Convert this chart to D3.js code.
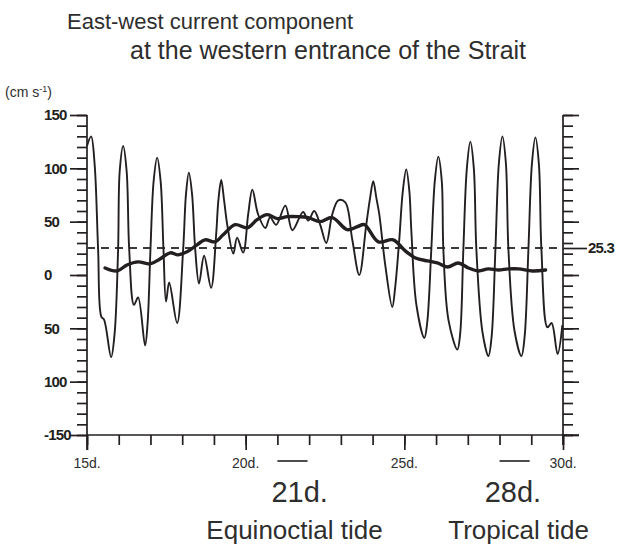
<!DOCTYPE html>
<html>
<head>
<meta charset="utf-8">
<script src="https://cdn.jsdelivr.net/npm/d3@7"></script>
<style>
  html, body { margin: 0; padding: 0; background: #fff; }
  svg { display: block; }
</style>
</head>
<body>
<div id="chart"></div>
<script>
// East-west current, western entrance of the Strait.
// Thin line = observed current (cm/s), thick line = tidally averaged current.
// Values read off the figure: extremes, shoulders and crossings of each tidal cycle.
const tideDay = [
  15.00, 15.13, 15.24, 15.35, 15.45, 15.54, 15.76, 15.87, 15.98, 16.03,
  16.14, 16.25, 16.33, 16.48, 16.61, 16.83, 16.91, 17.00, 17.10, 17.21,
  17.32, 17.41, 17.49, 17.59, 17.84, 18.03, 18.12, 18.21, 18.31, 18.41,
  18.53, 18.69, 18.91, 19.07, 19.14, 19.23, 19.32, 19.42, 19.61, 19.73,
  19.92, 20.08, 20.21, 20.39, 20.62, 20.77, 20.96, 21.25, 21.47, 21.81,
  21.97, 22.16, 22.35, 22.54, 22.73, 22.92, 23.14, 23.36, 23.58, 23.80,
  23.92, 24.02, 24.12, 24.21, 24.40, 24.62, 24.71, 24.84, 24.95, 25.06,
  25.16, 25.22, 25.38, 25.63, 25.72, 25.85, 25.96, 26.07, 26.18, 26.23,
  26.39, 26.67, 26.76, 26.86, 26.97, 27.08, 27.19, 27.27, 27.46, 27.65,
  27.75, 27.87, 27.98, 28.09, 28.20, 28.28, 28.47, 28.69, 28.79, 28.91,
  29.02, 29.13, 29.24, 29.32, 29.51, 29.64, 29.83, 29.98
];
const tideSpeed = [
  121, 130, 104, 24, -39, -42, -77, -55, 24, 97,
  121, 97, 24, -28, -21, -66, -45, 24, 88, 110,
  88, 24, -25, -7, -45, 24, 76, 96, 76, 24,
  -8, 18, -12, 38, 70, 89, 70, 47, 20, 35,
  21, 57, 80, 57, 44, 54, 47, 65, 42, 59,
  51, 60, 47, 30, 57, 70, 68, 33, 0, 47,
  72, 88, 72, 57, 9, -30, -12, 33, 78, 99,
  78, 42, -28, -59, -45, 24, 88, 111, 88, 24,
  -42, -70, -55, 24, 100, 125, 100, 24, -53, -76,
  -58, 24, 105, 130, 105, 24, -52, -76, -58, 24,
  104, 129, 104, 24, -49, -45, -74, -47
];

const meanDay = [
  15.57, 15.95, 16.26, 16.61, 16.99, 17.30, 17.62, 17.87, 18.15, 18.47,
  18.72, 19.04, 19.29, 19.67, 20.05, 20.36, 20.68, 21.00, 21.31, 21.66,
  21.97, 22.35, 22.73, 23.20, 23.52, 23.74, 24.18, 24.65, 25.03, 25.35,
  25.73, 26.04, 26.36, 26.70, 27.02, 27.33, 27.65, 27.97, 28.28, 28.60,
  29.04, 29.45
];
const meanSpeed = [
  6.6, 3.8, 9.4, 12.3, 10.4, 15.1, 20.8, 18.9, 21.7, 28.3,
  33.0, 31.1, 37.7, 47.2, 44.3, 51.9, 56.6, 52.8, 54.7, 54.7,
  53.8, 50.0, 53.8, 42.5, 45.3, 47.2, 31.1, 33.0, 22.6, 16.0,
  13.2, 11.3, 7.5, 11.3, 6.6, 3.8, 5.7, 4.7, 5.7, 5.7,
  3.8, 4.7
];

const meanLevel = 25.3;

const dayTicks = [15, 16, 17, 18, 19, 20, 21, 22, 23, 24, 25, 26, 27, 28, 29, 30];
const dayLabelTicks = [15, 20, 25, 30];
const speedMinorTicks = [-150, -140, -130, -120, -110, -100, -90, -80, -70, -60, -50, -40, -30, -20, -10,
  0, 10, 20, 30, 40, 50, 60, 70, 80, 90, 100, 110, 120, 130, 140, 150];
const speedMajorTicks = [150, 100, 50, 0, -50, -100, -150];
const speedLabels = ['150', '100', '50', '0', '50', '100', '-150'];

// tide events marked under the axis
const eventDay = [21, 28];
const eventLabel = ['21d.', '28d.'];
const eventLabelDay = [21.7, 28.42];
const eventName = ['Equinoctial tide', 'Tropical tide'];
const eventNameDay = [21.54, 28.6];

(function () {
  'use strict';

  const W = 636, H = 544;
  const INK = '#231f20';
  const TXT = '#2e2e2e';
  const FONT = "'Liberation Sans', Arial, Helvetica, sans-serif";

  const svg = d3.select('#chart').append('svg').attr('width', W).attr('height', H);

  const x = d3.scaleLinear().domain([15, 30]).range([87, 563]);
  const y = d3.scaleLinear().domain([-150, 150]).range([435, 115]);

  // --- Titles ---
  svg.append('text').attr('x', 67).attr('y', 29)
    .style('font-family', FONT).style('font-size', '22px').style('fill', TXT)
    .text('East-west current component');
  svg.append('text').attr('x', 130).attr('y', 59)
    .style('font-family', FONT).style('font-size', '25px').style('fill', TXT)
    .text('at the western entrance of the Strait');

  // unit label
  const unit = svg.append('text').attr('x', 5).attr('y', 97)
    .style('font-family', FONT).style('font-size', '14px').style('fill', TXT);
  unit.append('tspan').text('(cm s');
  unit.append('tspan').attr('dy', -5).style('font-size', '9px').text('-1');
  unit.append('tspan').attr('dy', 5).text(')');

  // --- Axis lines ---
  const axes = svg.append('g').attr('stroke', INK).attr('stroke-width', 1.7);
  axes.append('line').attr('x1', x(15)).attr('x2', x(15)).attr('y1', y(150)).attr('y2', y(-150) + 15);
  axes.append('line').attr('x1', x(30)).attr('x2', x(30)).attr('y1', y(150)).attr('y2', y(-150) + 10);
  axes.append('line').attr('x1', x(15)).attr('x2', x(30) + 16).attr('y1', y(-150)).attr('y2', y(-150));

  function styleTicks(sel) {
    sel.select('.domain').remove();
    sel.selectAll('.tick line').attr('stroke', INK).attr('stroke-width', 1.7);
    sel.selectAll('.tick text').remove();
  }

  // left ticks
  svg.append('g').attr('transform', `translate(${x(15)},0)`)
    .call(d3.axisLeft(y).tickValues(speedMinorTicks).tickSize(10).tickFormat(''))
    .call(styleTicks);
  svg.append('g').attr('transform', `translate(${x(15)},0)`)
    .call(d3.axisLeft(y).tickValues(speedMajorTicks).tickSize(17).tickFormat(''))
    .call(styleTicks);

  // right ticks
  svg.append('g').attr('transform', `translate(${x(30)},0)`)
    .call(d3.axisRight(y).tickValues(speedMinorTicks).tickSize(10).tickFormat(''))
    .call(styleTicks);
  svg.append('g').attr('transform', `translate(${x(30)},0)`)
    .call(d3.axisRight(y).tickValues(speedMajorTicks).tickSize(16).tickFormat(''))
    .call(styleTicks);
  svg.append('g').attr('transform', `translate(${x(30)},0)`)
    .call(d3.axisRight(y).tickValues([meanLevel]).tickSize(24).tickFormat(''))
    .call(styleTicks);

  // bottom ticks
  svg.append('g').attr('transform', `translate(0,${y(-150)})`)
    .call(d3.axisBottom(x).tickValues(dayTicks).tickSize(10).tickFormat(''))
    .call(styleTicks);
  svg.append('g').attr('transform', `translate(0,${y(-150)})`)
    .call(d3.axisBottom(x).tickValues(dayLabelTicks).tickSize(15).tickFormat(''))
    .call(styleTicks);

  // y labels (left aligned, minus sign dropped on the figure except -150)
  svg.append('g').selectAll('text').data(speedMajorTicks).enter().append('text')
    .attr('x', 44).attr('y', d => y(d)).attr('dy', '0.36em')
    .style('font-family', FONT).style('font-size', '15px').style('font-weight', 'bold')
    .style('letter-spacing', '-0.8px').style('fill', INK)
    .text((d, i) => speedLabels[i]);

  // right level label
  svg.append('text').attr('x', x(30) + 25).attr('y', y(meanLevel)).attr('dy', '0.36em')
    .style('font-family', FONT).style('font-size', '15px').style('font-weight', 'bold')
    .style('letter-spacing', '-0.8px').style('fill', INK)
    .text(meanLevel.toFixed(1));

  // x labels
  svg.append('g').selectAll('text').data(dayLabelTicks).enter().append('text')
    .attr('x', d => x(d)).attr('y', y(-150) + 33).attr('text-anchor', 'middle')
    .style('font-family', FONT).style('font-size', '14px').style('fill', TXT)
    .text(d => d + 'd.');

  // --- Mean level (dashed) ---
  svg.append('line')
    .attr('x1', x(15)).attr('x2', x(30)).attr('y1', y(meanLevel)).attr('y2', y(meanLevel))
    .attr('stroke', '#3a3a3a').attr('stroke-width', 1.9).attr('stroke-dasharray', '8 6');

  // --- Current series ---
  const line = d3.line().x(d => x(d[0])).y(d => y(d[1])).curve(d3.curveCatmullRom.alpha(0.5));
  const tidePts = tideDay.map((d, i) => [d, tideSpeed[i]]);
  const meanPts = meanDay.map((d, i) => [d, meanSpeed[i]]);

  svg.append('path').datum(tidePts).attr('d', line)
    .attr('fill', 'none').attr('stroke', INK).attr('stroke-width', 1.9).attr('stroke-linejoin', 'round');
  svg.append('path').datum(meanPts).attr('d', line)
    .attr('fill', 'none').attr('stroke', INK).attr('stroke-width', 3.4).attr('stroke-linejoin', 'round')
    .attr('stroke-linecap', 'round');

  // --- Tide events ---
  eventDay.forEach((d, i) => {
    svg.append('line').attr('x1', x(d)).attr('x2', x(d + 0.95))
      .attr('y1', y(-150) + 26).attr('y2', y(-150) + 26)
      .attr('stroke', INK).attr('stroke-width', 1.6);
    svg.append('text').attr('x', x(eventLabelDay[i])).attr('y', y(-150) + 67).attr('text-anchor', 'middle')
      .style('font-family', FONT).style('font-size', '29px').style('fill', TXT)
      .text(eventLabel[i]);
    svg.append('text').attr('x', x(eventNameDay[i])).attr('y', y(-150) + 104).attr('text-anchor', 'middle')
      .style('font-family', FONT).style('font-size', '26px').style('fill', TXT)
      .text(eventName[i]);
  });
})();
</script>
</body>
</html>
